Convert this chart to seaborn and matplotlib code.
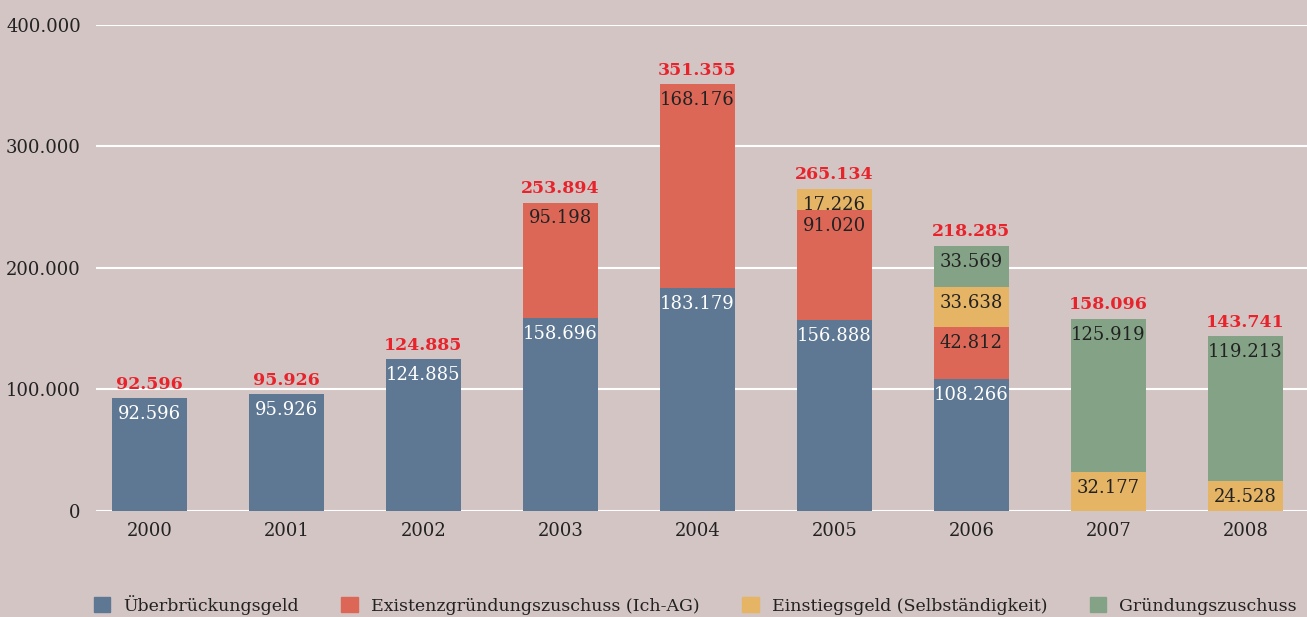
import numpy as np
import pandas as pd
import matplotlib
matplotlib.use("Agg")
import matplotlib.pyplot as plt
import seaborn as sns

# data
years = ["2000", "2001", "2002", "2003", "2004", "2005", "2006", "2007", "2008"]
ueberbrueckung = [92596, 95926, 124885, 158696, 183179, 156888, 108266, 0, 0]
ich_ag = [0, 0, 0, 95198, 168176, 91020, 42812, 0, 0]
einstieg = [0, 0, 0, 0, 0, 17226, 33638, 32177, 24528]
gruendung = [0, 0, 0, 0, 0, 0, 33569, 125919, 119213]
totals = [92596, 95926, 124885, 253894, 351355, 265134, 218285, 158096, 143741]

series_names = ["Überbrückungsgeld", "Existenzgründungszuschuss (Ich-AG)",
                "Einstiegsgeld (Selbständigkeit)", "Gründungszuschuss"]
colors = ["#5e7792", "#dc6757", "#e5b465", "#84a386"]
label_colors = ["white", "#222222", "#222222", "#222222"]

bg = "#d3c5c4"


def fmt(v):
    return f"{v:,.0f}".replace(",", ".")


sns.set_theme(style="white")
plt.rcParams["font.family"] = ["DejaVu Serif"]

fig = plt.figure(figsize=(13.07, 6.17), dpi=100, facecolor=bg)
ax = fig.add_axes([0.0735, 0.1718, 0.9265, 0.7877])
ax.set_facecolor(bg)

stack = np.array([ueberbrueckung, ich_ag, einstieg, gruendung], dtype=float)
cum = np.cumsum(stack, axis=0)

# draw cumulative heights from top layer down so each layer covers the next
for i in range(3, -1, -1):
    df = pd.DataFrame({"year": years, "value": cum[i]})
    sns.barplot(data=df, x="year", y="value", color=colors[i], saturation=1,
                width=0.55, linewidth=0, edgecolor=colors[i], ax=ax, zorder=3)

# segment labels
for i in range(4):
    for j in range(len(years)):
        if stack[i, j] > 0:
            ax.annotate(fmt(stack[i, j]), (j, cum[i, j]), xytext=(0, -5),
                        textcoords="offset points", ha="center", va="top",
                        fontsize=13, color=label_colors[i], zorder=5)

# totals
for j, t in enumerate(totals):
    ax.annotate(fmt(t), (j, cum[-1, j]), xytext=(0, 4),
                textcoords="offset points", ha="center", va="bottom",
                fontsize=12.5, fontweight="bold", color="#e8232b", zorder=5)

ax.set_ylim(0, 400000)
ax.set_xlim(-0.39, 8.45)
ticks = [0, 100000, 200000, 300000, 400000]
ax.set_yticks(ticks)
ax.set_yticklabels([fmt(v) for v in ticks])
ax.yaxis.grid(True, color="white", linewidth=1.5, zorder=0)
ax.set_axisbelow(True)
ax.tick_params(axis="both", length=0, labelsize=13, colors="#222222")
ax.tick_params(axis="y", pad=11)
ax.tick_params(axis="x", pad=8)
ax.set_xlabel("")
ax.set_ylabel("")
sns.despine(ax=ax, left=True, bottom=True)

handles = [plt.Rectangle((0, 0), 1, 1, color=c) for c in colors]
leg = fig.legend(handles, series_names, loc="lower center", ncol=4, frameon=False,
                 bbox_to_anchor=(0.532, -0.022), fontsize=12.5, handlelength=0.95,
                 handleheight=0.95, columnspacing=2.45, handletextpad=0.75)
for t in leg.get_texts():
    t.set_color("#222222")

fig.savefig("out.png", dpi=100, facecolor=bg)
